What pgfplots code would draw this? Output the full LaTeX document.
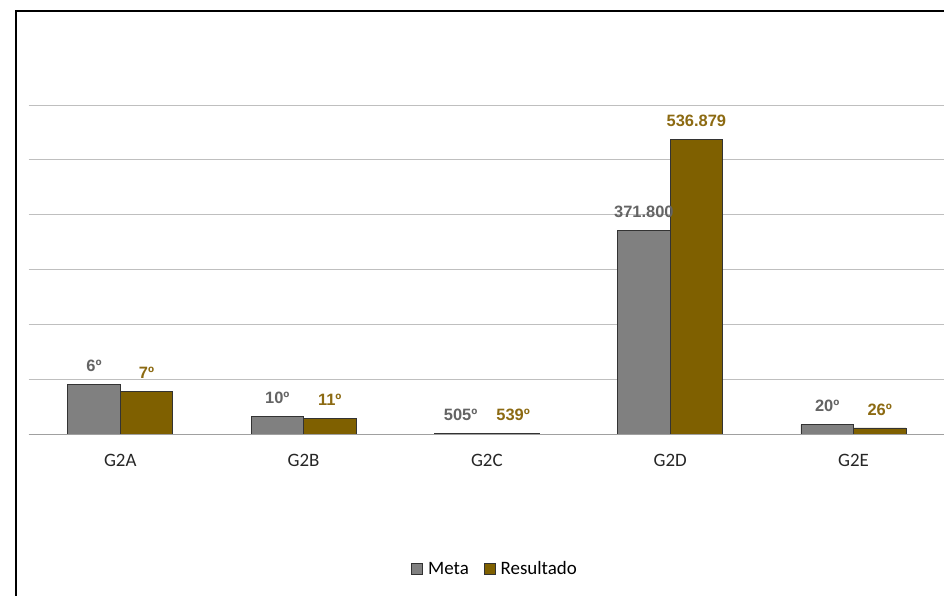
\documentclass[border=0pt]{standalone}
\usepackage{pgfplots}
\usepackage{pgfplotstable}
\pgfplotsset{compat=1.18}
\usepackage{fontspec}
\setmainfont{Carlito}
\newfontfamily\lab{Liberation Sans}
\definecolor{metafill}{RGB}{128,128,128}
\definecolor{resfill}{RGB}{127,96,0}
\definecolor{metalab}{RGB}{100,100,100}
\definecolor{reslab}{RGB}{140,106,18}
\definecolor{gridc}{RGB}{191,191,191}
\definecolor{basec}{RGB}{160,160,160}
\pgfplotstableread{
x meta resultado mlab rlab
0 90600 78400 6º 7º
1 32300 28600 10º 11º
2 1800 1800 505º 539º
3 371800 536879 371.800 536.879
4 17000 11000 20º 26º
}\datatable
\begin{document}
\begin{tikzpicture}
\useasboundingbox (0,0) rectangle (944bp,596bp);
\draw[line width=2bp] (16bp,-10bp) -- (16bp,585bp) -- (960bp,585bp);
\begin{axis}[
 at={(28.6bp,162bp)}, anchor=south west,
 scale only axis, width=916.5bp, height=329bp,
 xmin=-0.5, xmax=4.5, ymin=0, ymax=600000,
 ybar=0pt, bar width=52.5bp,
 axis line style={draw=none},
 scaled y ticks=false,
 ytick={0,100000,200000,300000,400000,500000,600000}, yticklabels={},
 ymajorgrids, grid style={color=gridc, line width=0.9bp},
 xtick=data, xticklabels={G2A,G2B,G2C,G2D,G2E}, major tick length=0,
 xticklabel style={font=\fontsize{19}{22}\selectfont, text=black!85, yshift=-17bp},
 nodes near coords, point meta=explicit symbolic,
 every node near coord/.append style={font=\fontsize{16.5}{19}\selectfont\lab\bfseries, yshift=9bp},
 legend style={at={(0.509,-0.41)}, anchor=center, draw=none, legend columns=2,
   font=\fontsize{19}{22}\selectfont,
   /tikz/every even column/.append style={column sep=13bp}},
 legend image code/.code={\draw[#1, line width=0.8bp] (0bp,-5.5bp) rectangle (11bp,5.5bp); \path (14bp,0bp);},
 clip=false,
]
\addplot[fill=metafill, draw=black!80, line width=0.8bp,
  every node near coord/.append style={text=metalab}]
  table[x=x, y=meta, meta=mlab] {\datatable};
\addplot[fill=resfill, draw=black!80, line width=0.8bp,
  every node near coord/.append style={text=reslab}]
  table[x=x, y=resultado, meta=rlab] {\datatable};
\legend{Meta, Resultado}
\draw[basec, line width=1bp] (axis cs:-0.5,0) -- (axis cs:4.5,0);
\end{axis}
\end{tikzpicture}
\end{document}
